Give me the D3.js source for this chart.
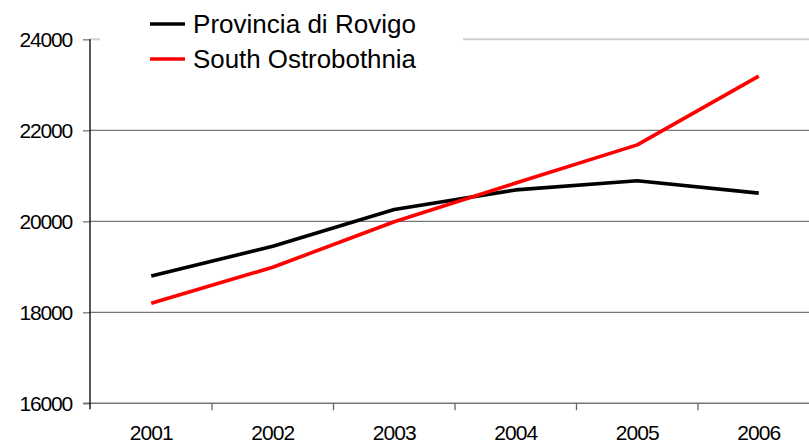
<!DOCTYPE html>
<html>
<head>
<meta charset="utf-8">
<script src="https://cdn.jsdelivr.net/npm/d3@7.9.0/dist/d3.min.js"></script>
<style>
  body { margin: 0; background: #fff; }
  svg { display: block; font-family: "Liberation Sans", Arial, sans-serif; }
</style>
</head>
<body>
<svg id="chart" width="809" height="446"></svg>
<script>
// data
const years = ['2001', '2002', '2003', '2004', '2005', '2006'];
const rovigo = [18800, 19450, 20260, 20690, 20890, 20620];
const southOstro = [18200, 18990, 19990, 20840, 21680, 23190];
const yTicks = [16000, 18000, 20000, 22000, 24000];
const seriesNames = ['Provincia di Rovigo', 'South Ostrobothnia'];
const seriesColors = ['#000000', '#ff0000'];

const svg = d3.select('#chart');

const x = d3.scalePoint()
    .domain(years)
    .range([90.5, 819.5])
    .padding(0.5);

const y = d3.scaleLinear()
    .domain([16000, 24000])
    .range([403.3, 39.3]);

// gridlines
svg.append('g')
    .selectAll('line')
    .data(yTicks.slice(1))
    .join('line')
    .attr('x1', 90)
    .attr('x2', 809)
    .attr('y1', d => y(d))
    .attr('y2', d => y(d))
    .attr('stroke', d => d === 24000 ? '#d0d0d0' : '#777')
    .attr('stroke-width', d => d === 24000 ? 2 : 1.3);

// y axis
const yAxis = svg.append('g')
    .attr('transform', 'translate(90,0)')
    .call(d3.axisLeft(y).tickValues(yTicks).tickSize(7).tickPadding(11).tickFormat(d3.format('d')));
yAxis.select('.domain').remove();
yAxis.selectAll('.tick line').attr('stroke', '#888').attr('stroke-width', 1.5);
yAxis.selectAll('text')
    .attr('fill', '#000')
    .attr('font-size', 21)
    .attr('font-family', '"Liberation Sans", Arial, sans-serif')
    .attr('letter-spacing', -1.2);

// x axis
const xBand = d3.scaleLinear().domain([0, years.length]).range([90.5, 819.5]);
svg.append('line')
    .attr('x1', 83).attr('x2', 809)
    .attr('y1', y(16000)).attr('y2', y(16000))
    .attr('stroke', '#777').attr('stroke-width', 1.5);
svg.append('g')
    .selectAll('line')
    .data(d3.range(1, years.length))
    .join('line')
    .attr('x1', d => xBand(d))
    .attr('x2', d => xBand(d))
    .attr('y1', y(16000))
    .attr('y2', y(16000) + 7)
    .attr('stroke', '#666')
    .attr('stroke-width', 1.3);
svg.append('g')
    .selectAll('text')
    .data(years)
    .join('text')
    .attr('x', d => x(d))
    .attr('y', 440)
    .attr('text-anchor', 'middle')
    .attr('font-size', 21)
    .attr('letter-spacing', -0.9)
    .text(d => d);

// y axis line
svg.append('line')
    .attr('x1', 90).attr('x2', 90)
    .attr('y1', y(24000)).attr('y2', y(16000) + 6)
    .attr('stroke', '#000').attr('stroke-width', 1.3);

// series
const line = d3.line()
    .x((d, i) => x(years[i]))
    .y(d => y(d));

[rovigo, southOstro].forEach((vals, i) => {
    svg.append('path')
        .datum(vals)
        .attr('d', line)
        .attr('fill', 'none')
        .attr('stroke', seriesColors[i])
        .attr('stroke-width', 3.6)
        .attr('stroke-linejoin', 'round');
});

// legend (white box hides top gridline)
const legend = svg.append('g');
legend.append('rect')
    .attr('x', 100).attr('y', 0)
    .attr('width', 363).attr('height', 80)
    .attr('fill', '#fff');
seriesNames.forEach((name, i) => {
    const ly = 24 + i * 35;
    legend.append('line')
        .attr('x1', 150).attr('x2', 185)
        .attr('y1', ly).attr('y2', ly)
        .attr('stroke', seriesColors[i])
        .attr('stroke-width', 3.6);
    legend.append('text')
        .attr('x', 193)
        .attr('y', ly + 9)
        .attr('font-size', 25)
        .attr('textLength', 223)
        .attr('lengthAdjust', 'spacingAndGlyphs')
        .text(name);
});
</script>
</body>
</html>
